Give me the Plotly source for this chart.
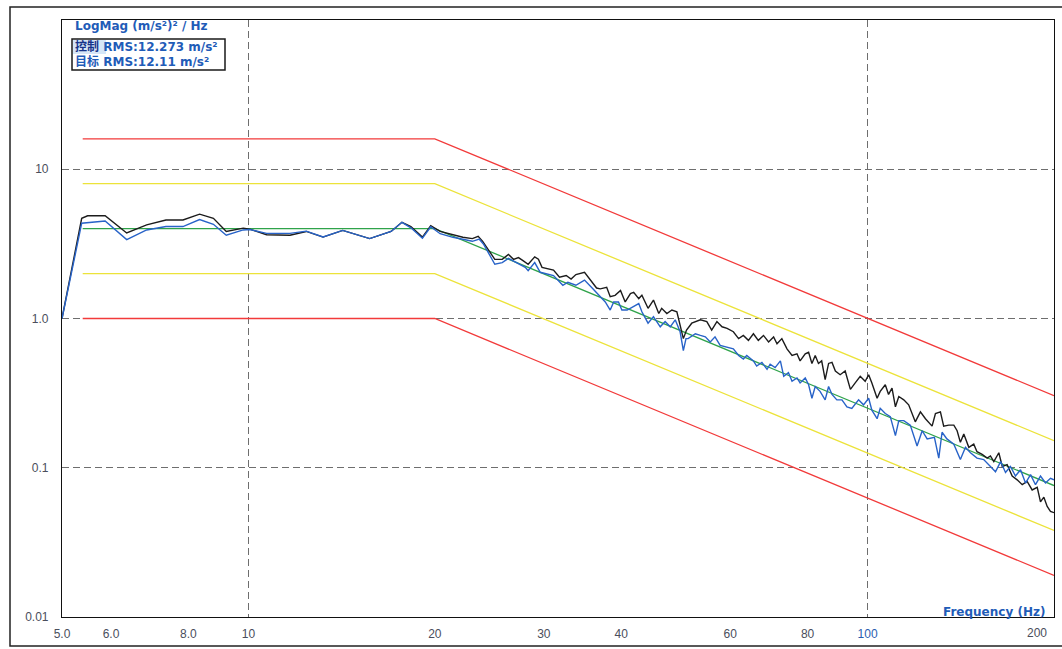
import plotly.graph_objects as go

# ---------------- data ----------------
# control spectrum (black)
ctrl_freq = [5.0, 5.38, 5.5, 5.87, 6.36, 6.85, 7.36, 7.84, 8.34, 8.78,
             9.21, 9.81, 10.05, 10.7, 11.67, 12.4, 13.2, 14.2, 15.7, 17.0,
             17.7, 18.3, 19.1, 19.7, 20.4, 21.4, 22.2, 23.0, 23.5, 23.9,
             24.5, 25.0, 25.7, 26.3, 26.8, 27.3, 27.8, 28.3, 29.0, 29.4,
             29.8, 31.1, 31.8, 32.6, 33.2, 33.8, 34.9, 35.6, 36.5,
             37.0, 37.9, 38.4, 39.1, 39.9, 40.6, 41.4, 41.9, 42.7, 43.2,
             44.2, 45.1, 46.0, 46.5, 47.4, 48.3, 49.2, 49.8, 50.4, 51.0,
             52.0, 53.7, 55.0, 56.0, 57.1, 58.2, 59.3, 60.7, 61.9, 63.0,
             64.2, 65.4, 66.6, 67.9, 69.2, 70.5, 71.4, 72.7, 74.1, 75.5,
             76.9,
             77.8, 79.3, 80.3, 81.3, 82.3, 83.3, 84.3, 85.4, 86.5, 87.6,
             88.7, 90.3, 92.0, 93.8, 95.5, 97.3, 99.1, 100.4, 101.6, 103.6,
             104.8, 106.8, 108.1, 109.5, 110.9, 112.3, 114.4, 116.5, 119.4, 121.7,
             124.0, 127.1, 128.7, 131.1, 132.7, 135.2, 137.8, 139.5, 141.2, 143.0,
             145.7, 148.4, 150.2, 153.1, 156.0, 157.9, 159.9, 162.9, 165.0, 168.0,
             171.2, 174.4, 177.7, 181.0, 184.4, 187.9, 190.2, 192.6, 195.0, 197.4,
             200.0]
ctrl_vals = [1.0, 4.69, 4.88, 4.88, 3.74, 4.24, 4.57, 4.57, 5.0, 4.69,
             3.83, 4.03, 3.97, 3.64, 3.61, 3.83, 3.51, 3.89, 3.43, 3.83,
             4.41, 4.13, 3.51, 4.19, 3.83, 3.64, 3.5, 3.43, 3.55, 3.29,
             2.83, 2.49, 2.49, 2.69, 2.49, 2.56, 2.43, 2.31, 2.59, 2.5,
             2.2, 2.11, 1.89, 1.94, 1.84, 1.97, 2.04, 1.84, 1.6,
             1.58, 1.62, 1.40, 1.43, 1.54, 1.29, 1.47, 1.50, 1.36, 1.43,
             1.17, 1.33, 1.08, 1.17, 1.08, 1.14, 1.11, 0.905, 0.733, 0.837,
             0.93, 0.98, 0.954, 0.837, 0.954, 0.88, 0.86, 0.815, 0.733, 0.77,
             0.714, 0.79, 0.714, 0.77, 0.696, 0.753, 0.677, 0.733, 0.626, 0.565,
             0.58,
             0.52, 0.58, 0.594, 0.50, 0.565, 0.50, 0.52, 0.39, 0.50, 0.508,
             0.445, 0.42, 0.445, 0.335, 0.37, 0.41, 0.38, 0.42, 0.37, 0.292,
             0.325, 0.36, 0.31, 0.342, 0.256, 0.30, 0.285, 0.264, 0.203, 0.237,
             0.213, 0.19, 0.231, 0.237, 0.19, 0.193, 0.193, 0.177, 0.148, 0.168,
             0.137, 0.144, 0.128, 0.123, 0.116, 0.12, 0.11, 0.126, 0.102, 0.105,
             0.088, 0.083, 0.077, 0.081, 0.071, 0.074, 0.059, 0.0635, 0.055, 0.051,
             0.05]

# measured/target-channel spectrum (blue)
meas_freq = [5.0, 5.38, 5.87, 6.36, 6.85, 7.36, 7.84, 8.34, 8.78, 9.21,
             9.81, 10.05, 10.7, 11.67, 12.4, 13.2, 14.2, 15.7, 17.0, 17.7,
             18.3, 19.1, 19.7, 20.4, 21.4, 22.2, 23.0, 23.6, 24.0, 25.0,
             25.7, 26.3, 27.1, 28.0, 28.3, 29.0, 29.6, 31.1, 32.2, 32.8,
             33.8, 34.9, 36.0,
             37.0, 37.7, 38.4, 38.9, 39.6, 40.1, 40.9, 41.9, 42.7, 43.2,
             44.2, 45.1, 46.25, 47.1, 48.0, 48.9, 49.8, 50.4, 50.9, 51.3,
             52.7, 53.7, 54.7, 55.7, 56.7, 57.8, 59.3, 60.7, 61.9, 63.0,
             63.8, 65.4, 66.2, 67.5, 68.8, 69.6, 70.9, 72.3, 73.2, 74.5,
             75.5, 76.9,
             77.8, 79.3, 80.3, 81.3, 82.3, 83.8, 85.4, 86.5, 87.6, 89.2,
             90.9, 92.6, 94.3, 96.7, 98.5, 100.4, 101.6, 103.6, 104.8, 106.8,
             108.8, 110.9, 112.3, 114.4, 117.2, 120.2, 122.5, 124.8, 128.2, 130.3,
             131.9, 134.3, 137.8, 141.2, 143.9, 146.6, 150.2, 154.0, 157.9, 160.9,
             164.0, 167.0, 170.1, 173.3, 176.6, 179.9, 183.3, 186.7, 190.2, 193.8,
             197.4, 200.0]
meas_vals = [1.0, 4.35, 4.5, 3.38, 3.92, 4.13, 4.13, 4.6, 4.28, 3.61,
             3.92, 3.95, 3.72, 3.72, 3.85, 3.52, 3.89, 3.43, 3.83, 4.41,
             4.05, 3.45, 4.12, 3.7, 3.5, 3.4, 3.29, 3.4, 3.13, 2.31,
             2.37, 2.53, 2.37, 2.2, 2.09, 2.37, 2.04, 1.94, 1.67, 1.75,
             1.67, 1.81, 1.58,
             1.40, 1.29, 1.14, 1.29, 1.29, 1.14, 1.14, 1.20, 1.26, 1.11,
             0.93, 1.03, 0.88, 0.954, 0.88, 0.98, 0.815, 0.61, 0.733, 0.733,
             0.79, 0.77, 0.753, 0.696, 0.753, 0.66, 0.643, 0.626, 0.565, 0.535,
             0.565, 0.52, 0.48, 0.508, 0.457, 0.494, 0.469, 0.52, 0.41, 0.434,
             0.38, 0.40,
             0.37, 0.40, 0.36, 0.292, 0.35, 0.325, 0.285, 0.35, 0.31, 0.285,
             0.285, 0.256, 0.25, 0.285, 0.264, 0.292, 0.243, 0.213, 0.25, 0.231,
             0.22, 0.164, 0.207, 0.207, 0.193, 0.14, 0.177, 0.156, 0.16, 0.116,
             0.173, 0.156, 0.144, 0.1135, 0.137, 0.126, 0.116, 0.1135, 0.102, 0.094,
             0.11, 0.093, 0.102, 0.088, 0.097, 0.079, 0.09, 0.077, 0.088, 0.079,
             0.085, 0.083]

# reference profile and tolerance lines
prof_freq = [5.4, 20.0, 200.0]
profile = [4.0, 4.0, 0.076]
abort_hi = [16.0, 16.0, 0.304]
alarm_hi = [8.0, 8.0, 0.152]
alarm_lo = [2.0, 2.0, 0.038]
abort_lo = [1.0, 1.0, 0.019]

x_tickvals = [5, 6, 8, 10, 20, 30, 40, 60, 80, 100]
x_ticktext = ["5.0", "6.0", "8.0", "10", "20", "30", "40", "60", "80",
              "<span style='color:#2a5db0'>100</span>"]
x_last_label = "200"
y_tickvals = [0.01, 0.1, 1, 10]
y_ticktext = ["0.01", "0.1", "1.0", "10"]

y_title = "LogMag (m/s²)² / Hz"
x_title = "Frequency (Hz)"
legend_lines = [("控制", "RMS:12.273 m/s²"), ("目标", "RMS:12.11 m/s²")]

# ---------------- figure ----------------
W, H = 1062, 649
ML, MR, MT, MB = 62, 8, 20, 32
PW, PH = W - ML - MR, H - MT - MB


def px(x):
    return (x - ML) / PW


def py(y):
    return (H - MB - y) / PH


fig = go.Figure()

red = "#f23a3a"
yellow = "#ece33a"
green = "#2fa34a"
for vals, col in [(abort_hi, red), (abort_lo, red), (alarm_hi, yellow), (alarm_lo, yellow)]:
    fig.add_trace(go.Scatter(x=prof_freq, y=vals, mode="lines",
                             line=dict(color=col, width=1.3), showlegend=False))
fig.add_trace(go.Scatter(x=prof_freq, y=profile, mode="lines",
                         line=dict(color=green, width=1.3), showlegend=False))
fig.add_trace(go.Scatter(x=ctrl_freq, y=ctrl_vals, mode="lines",
                         line=dict(color="#1c1c1c", width=1.4), showlegend=False))
fig.add_trace(go.Scatter(x=meas_freq, y=meas_vals, mode="lines",
                         line=dict(color="#2863c8", width=1.4), showlegend=False))

tick_font = dict(family="Liberation Sans, Arial, sans-serif", size=12, color="#4a4e5c")
grid_col = "#6e6e6e"

fig.update_xaxes(type="log", range=[0.69897, 2.30103],
                 tickvals=x_tickvals, ticktext=x_ticktext, tickfont=tick_font,
                 showgrid=False, zeroline=False, ticks="", ticklabelstandoff=5,
                 showline=True, linecolor="#111111", linewidth=1.2, mirror=True,
                 minor=dict(tickvals=[10, 100], showgrid=True, gridcolor=grid_col,
                            gridwidth=1, griddash="7px,4px", ticks=""))
fig.update_yaxes(type="log", range=[-2, 2],
                 tickvals=y_tickvals, ticktext=y_ticktext, tickfont=tick_font,
                 showgrid=True, gridcolor=grid_col, gridwidth=1, griddash="7px,4px",
                 zeroline=False, ticks="", ticklabelstandoff=10,
                 showline=True, linecolor="#111111", linewidth=1.2, mirror=True)

blue_txt = "#1f5cb8"
lab_font = "DejaVu Sans, Noto Sans CJK SC, sans-serif"
annotations = [
    dict(x=px(73), y=py(26), xref="paper", yref="paper", xanchor="left", yanchor="middle",
         text="<b>" + y_title + "</b>", showarrow=False,
         font=dict(family=lab_font, size=12, color=blue_txt)),
    dict(x=px(1047), y=py(612), xref="paper", yref="paper", xanchor="right", yanchor="middle",
         text="<b>" + x_title + "</b>", showarrow=False,
         font=dict(family=lab_font, size=12, color=blue_txt)),
    dict(x=px(1049), y=py(633), xref="paper", yref="paper", xanchor="right", yanchor="middle",
         text=x_last_label, showarrow=False, font=tick_font),
]
for i, (name, rms) in enumerate(legend_lines):
    col = "#16348a" if i == 0 else blue_txt
    annotations.append(dict(
        x=px(73), y=py(47 + 15 * i), xref="paper", yref="paper",
        xanchor="left", yanchor="middle", showarrow=False,
        text="<b><span style='color:%s'>%s</span> %s</b>" % (col, name, rms),
        font=dict(family=lab_font, size=12, color=blue_txt)))

shapes = [
    # outer frame
    dict(type="rect", xref="paper", yref="paper", x0=px(10), x1=px(1075),
         y0=py(646), y1=py(7), line=dict(color="#222222", width=1.5), layer="below"),
    # legend box
    dict(type="rect", xref="paper", yref="paper", x0=px(72), x1=px(225),
         y0=py(70), y1=py(39), line=dict(color="#1a1a1a", width=1.5),
         fillcolor="white", layer="above"),
    # highlight behind first legend name
    dict(type="rect", xref="paper", yref="paper", x0=px(73), x1=px(106),
         y0=py(54), y1=py(40), line=dict(width=0),
         fillcolor="#d6e6f7", layer="above"),
]

fig.update_layout(
    width=W, height=H,
    margin=dict(l=ML, r=MR, t=MT, b=MB),
    paper_bgcolor="white", plot_bgcolor="white",
    showlegend=False,
    annotations=annotations, shapes=shapes,
)

fig.write_html("out.html", config={"displayModeBar": False},
               post_script="document.body.style.margin='0';document.body.style.overflow='hidden';")
